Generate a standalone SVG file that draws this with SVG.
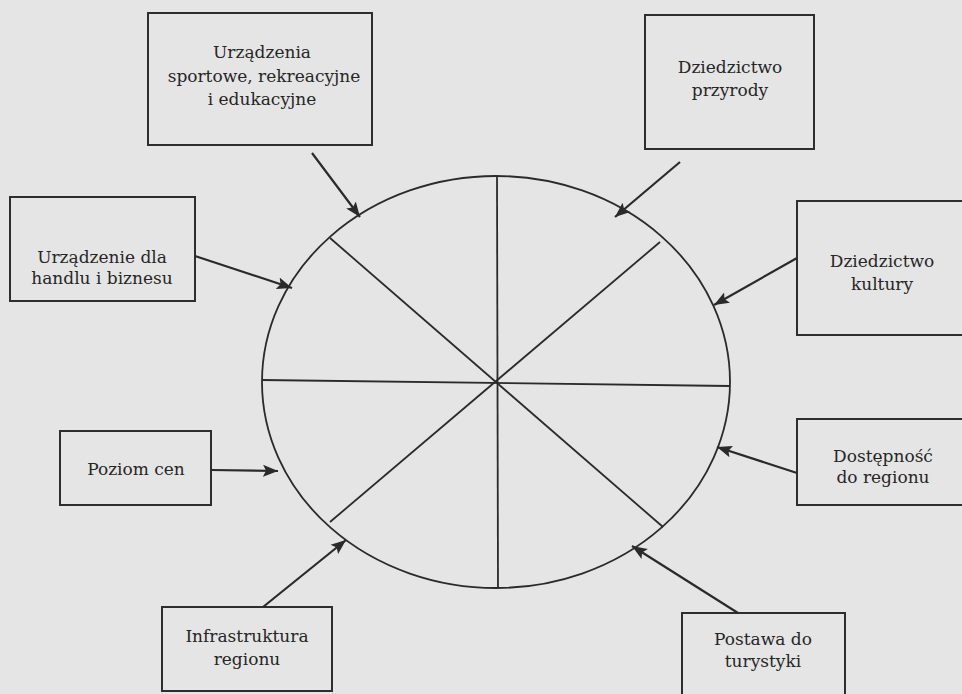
<svg xmlns="http://www.w3.org/2000/svg" width="962" height="694" viewBox="0 0 962 694">
<defs>
<style>
.box{fill:none;stroke:#2e2e2e;stroke-width:2}
.lbl{font-family:"DejaVu Serif","Liberation Serif",serif;font-size:17px;fill:#262626;text-anchor:middle}
.ln{stroke:#2a2a2a;stroke-width:1.8;fill:none}
.arr{stroke:#2a2a2a;stroke-width:2.2;fill:none;marker-end:url(#ah)}
</style>
<marker id="ah" markerUnits="userSpaceOnUse" markerWidth="18" markerHeight="14" refX="15" refY="7" orient="auto">
<path d="M0,1 L15,7 L0,13 L3,7 Z" fill="#2a2a2a"/>
</marker>
</defs>
<rect width="962" height="694" fill="#e5e5e5"/>
<g id="wheel">
<ellipse cx="496" cy="382" rx="234" ry="206" class="ln"/>
<line x1="497" y1="176" x2="498" y2="588" class="ln"/>
<line x1="262" y1="380" x2="730" y2="386" class="ln"/>
<line x1="330" y1="238" x2="663" y2="527" class="ln"/>
<line x1="660" y1="242" x2="330" y2="522" class="ln"/>
</g>
<g id="n1">
<rect x="148" y="13" width="224" height="132" class="box"/>
<text class="lbl" x="262" y="58">Urządzenia</text>
<text class="lbl" x="264" y="82">sportowe, rekreacyjne</text>
<text class="lbl" x="262" y="105">i edukacyjne</text>
</g>
<g id="n2">
<rect x="645" y="15" width="169" height="134" class="box"/>
<text class="lbl" x="730" y="73">Dziedzictwo</text>
<text class="lbl" x="730" y="96">przyrody</text>
</g>
<g id="n3">
<rect x="10" y="197" width="185" height="104" class="box"/>
<text class="lbl" x="102" y="263">Urządzenie dla</text>
<text class="lbl" x="102" y="284">handlu i biznesu</text>
</g>
<g id="n4">
<rect x="797" y="201" width="175" height="134" class="box"/>
<text class="lbl" x="882" y="267">Dziedzictwo</text>
<text class="lbl" x="882" y="290">kultury</text>
</g>
<g id="n5">
<rect x="797" y="419" width="175" height="86" class="box"/>
<text class="lbl" x="883" y="462">Dostępność</text>
<text class="lbl" x="883" y="483">do regionu</text>
</g>
<g id="n6">
<rect x="60" y="431" width="151" height="74" class="box"/>
<text class="lbl" x="136" y="475">Poziom cen</text>
</g>
<g id="n7">
<rect x="162" y="607" width="170" height="84" class="box"/>
<text class="lbl" x="247" y="642">Infrastruktura</text>
<text class="lbl" x="247" y="665">regionu</text>
</g>
<g id="n8">
<rect x="682" y="613" width="163" height="90" class="box"/>
<text class="lbl" x="763" y="645">Postawa do</text>
<text class="lbl" x="763" y="667">turystyki</text>
</g>
<g id="connectors">
<line x1="312" y1="153" x2="360" y2="217" class="arr"/>
<line x1="680" y1="162" x2="615" y2="217" class="arr"/>
<line x1="195" y1="256" x2="292" y2="288" class="arr"/>
<line x1="797" y1="258" x2="714" y2="305" class="arr"/>
<line x1="797" y1="473" x2="717" y2="447" class="arr"/>
<line x1="211" y1="470" x2="278" y2="471" class="arr"/>
<line x1="263" y1="607" x2="346" y2="540" class="arr"/>
<line x1="738" y1="613" x2="632" y2="546" class="arr"/>
</g>
</svg>
